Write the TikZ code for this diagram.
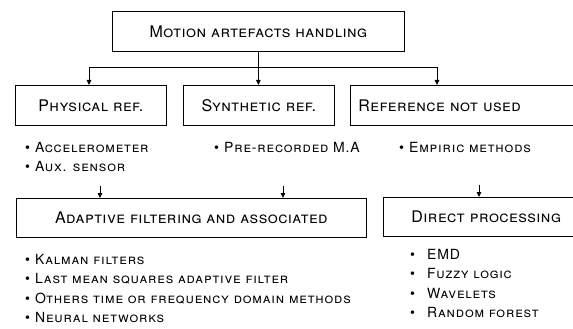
\documentclass[tikz,border=0pt]{standalone}
\usepackage{fontspec}
\setmainfont{TeX Gyre Heros}
\usepackage{tikz}
\usetikzlibrary{arrows.meta,positioning,calc}

\begin{document}
\begin{tikzpicture}[
      x=1pt, y=-1pt,
      >={Triangle[length=5pt,width=4.5pt]},
      font=\scshape,
      catbox/.style={
        rectangle, draw, line width=0.7pt,
        minimum height=#1, inner sep=0pt,
        font=\fontsize{16}{18}\selectfont\scshape\addfontfeatures{LetterSpace=3}
      },
      catbox/.default=40pt,
      catarr/.style={->, line width=0.8pt},
      catlist/.style={
        anchor=north west, align=left, inner sep=0pt,
        font=\fontsize{14}{19.5}\selectfont\scshape\addfontfeatures{LetterSpace=6}
      }
    ]
    \useasboundingbox (0,0) rectangle (573,329);
    \clip (0,0) rectangle (573,329);

    % Level 1: root
    \node[catbox, minimum width=292pt, anchor=north west] (root) at (112,11)
      {Motion artefacts handling};

    % Level 2: kinds of reference
    \node[catbox, minimum width=151pt, anchor=north west] (phys) at (15,85)
      {Physical ref.};
    \node[catbox, minimum width=151pt, anchor=north west] (synt) at (183,85)
      {Synthetic ref.};
    \node[catbox, text width=224pt, align=left, inner xsep=8pt, anchor=north west] (refn) at (350,85)
      {Reference not used};

    % Level 2 sources
    \node[catlist] (physlist) at (25,142)
      {\textbullet\hspace{5pt}Accelerometer\\\textbullet\hspace{5pt}Aux. sensor};
    \node[catlist] (syntlist) at (214,142)
      {\textbullet\hspace{5pt}Pre-recorded M.A};
    \node[catlist] (refnlist) at (399,142)
      {\textbullet\hspace{5pt}Empiric methods};

    % Level 3: processing
    \node[catbox=39pt, minimum width=350pt, anchor=north west] (adapt) at (16,198)
      {Adaptive filtering and associated};
    \node[catbox=39pt, text width=170pt, align=left, inner xsep=28pt, anchor=north west] (direct) at (383,197)
      {Direct processing};

    % Level 3 methods
    \node[catlist] (adaptlist) at (25,254)
      {\textbullet\hspace{5pt}Kalman filters\\
       \textbullet\hspace{5pt}Last mean squares adaptive filter\\
       \textbullet\hspace{5pt}Others time or frequency domain methods\\
       \textbullet\hspace{5pt}Neural networks};
    \node[catlist] (directlist) at (410,249)
      {\textbullet\hspace{12pt}EMD\\
       \textbullet\hspace{12pt}Fuzzy logic\\
       \textbullet\hspace{12pt}Wavelets\\
       \textbullet\hspace{12pt}Random forest};

    % Arrows from root
    \coordinate (barL) at (89,67);
    \coordinate (barR) at (437,67);
    \draw[line width=0.8pt] (barL) -- (barR);
    \draw[catarr] (root.south) -- (root.south |- synt.north);
    \draw[catarr] (barL) -- (barL |- phys.north);
    \draw[catarr] (barR) -- (barR |- refn.north);

    % Arrows into level 3
    \coordinate (inA) at (100,186);
    \coordinate (inB) at (283,186);
    \coordinate (inC) at (479,185);
    \draw[catarr] (inA) -- (inA |- adapt.north);
    \draw[catarr] (inB) -- (inB |- adapt.north);
    \draw[catarr] (inC) -- (inC |- direct.north);
  \end{tikzpicture}
\end{document}
